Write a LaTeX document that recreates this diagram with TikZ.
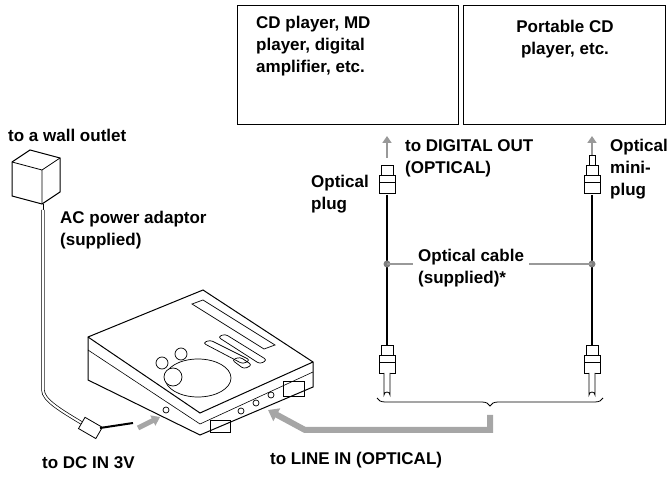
\documentclass[tikz,border=0pt]{standalone}
\usepackage{fontspec}
\setmainfont{Liberation Sans}
\usetikzlibrary{arrows.meta,decorations.pathreplacing}
\tikzset{
  lbl/.style={font=\bfseries\fontsize{17}{22}\selectfont, align=left, inner sep=0pt},
  unit/.style={draw, line width=1pt},
  hint/.style={draw=gray!80, line width=1.6pt},
  grayarrow/.style={draw=gray!70, line width=6pt, -{Triangle[length=10pt,width=14pt]}},
  cable/.style={line width=1.3pt},
  plugbody/.style={draw, fill=white, line width=0.8pt},
}
\newcommand{\optplug}[2]{% x, y of top
  \draw[plugbody] (#1-6,#2) rectangle (#1+6,#2+10);
  \draw[plugbody] (#1-8,#2+10) rectangle (#1+8,#2+28);
  \draw (#1-8,#2+17) -- (#1+8,#2+17);
}
\begin{document}
\begin{tikzpicture}[x=1pt,y=-1pt]
  \useasboundingbox (0,0) rectangle (670,478);
  % equipment boxes
  \node[unit, minimum width=221pt, minimum height=119pt, anchor=north west] (cdbox) at (237,5) {};
  \node[unit, minimum width=202pt, minimum height=119pt, anchor=north west] (pcdbox) at (463,5) {};
  \node[lbl, anchor=north west] (cdtxt) at (256,16) {CD player, MD\\player, digital\\amplifier, etc.};
  \node[lbl, anchor=north, align=center] (pcdtxt) at (565,20) {Portable CD\\player, etc.};
  % cables
  \draw[cable] (387,195) -- (387,345);
  \draw[cable] (592,195) -- (592,345);
  \optplug{387}{165}
  \optplug{592}{165}
  \optplug{387}{345}
  \optplug{592}{345}
  \foreach \x in {387,592}{
    \draw[plugbody] (\x-3,373) -- (\x-3,395) arc (180:360:3) -- (\x+3,373);
    \draw[gray!80, line width=2.5pt, -{Triangle[length=7pt,width=9pt]}] (\x,158) -- (\x,136);
  }
  \draw[plugbody] (589,155) rectangle (595,165);
  \node[lbl, anchor=north east] (plugtxt) at (369,175) {Optical\\plug};
  \node[lbl, anchor=north west] (outtxt) at (405,139) {to DIGITAL OUT\\(OPTICAL)};
  \node[lbl, anchor=north west] (minitxt) at (610,139) {Optical\\mini-\\plug};
  % cable label
  \node[lbl, anchor=north west] (cabletxt) at (418,249) {Optical cable\\(supplied)*};
  \coordinate (ldot) at (387,264);
  \coordinate (rdot) at (592,264);
  \fill[gray] (ldot) circle (3.5);
  \fill[gray] (rdot) circle (3.5);
  \draw[hint] (ldot) -- (413,264);
  \draw[hint] (cabletxt.east |- ldot) ++(5,0) -- (rdot);
  % brace
  \draw[line width=0.8pt, decorate, decoration={brace, amplitude=8pt, mirror, aspect=0.5}] (377,398) -- (603,398);
  % arrow to LINE IN
  \draw[grayarrow] (490,415) -- (490,430) -- (305,430) -- (268,410);
  \node[lbl, anchor=north west] (linetxt) at (270,452) {to LINE IN (OPTICAL)};
  % adaptor
  \node[lbl, anchor=north west] (walltxt) at (8,129) {to a wall outlet};
  \draw[line width=1pt, fill=white] (12,162) -- (30,150) -- (60,158) -- (60,192) -- (42,204) -- (12,196) -- cycle;
  \draw[line width=0.8pt] (12,162) -- (42,170) -- (60,158) (42,170) -- (42,204);
  \draw[line width=0.8pt] (43,204) -- (43,210);
  \draw[line width=0.7pt, double=white, double distance=2pt] (43,210) -- (43,390) .. controls (43,400) and (60,410) .. (85,425);
  \draw[plugbody, rotate around={-30:(95,430)}] (80,424) rectangle (100,437);
  \draw[line width=2pt] (100,428) -- (133,423);
  \node[lbl, anchor=north west] (actxt) at (60,211) {AC power adaptor\\(supplied)};
  \node[lbl, anchor=north west] (dctxt) at (42,456) {to DC IN 3V};
  \draw[draw=gray!70, line width=5pt, -{Triangle[length=8pt,width=11pt]}] (138,428) -- (160,417);
  % MD player
  \draw[line width=1pt, fill=white] (88,337) -- (203,290) -- (313,362) -- (313,387) -- (200,435) -- (88,380) -- cycle;
  \draw[line width=1pt] (88,337) -- (200,413) -- (313,362);
  \draw[line width=0.6pt] (88,350) -- (200,424) -- (313,372);
  \draw[line width=0.7pt] (192,304) -- (203,300) -- (275,345) -- (264,349) -- cycle;
  \draw[line width=0.7pt] (198,378) ellipse (33 and 19);
  \draw[line width=0.7pt, fill=white] (173,377) circle (9);
  \draw[line width=0.7pt] (162,363) circle (6);
  \draw[line width=0.7pt] (181,354) circle (6);
  \draw[line width=0.7pt, rounded corners=3pt] (203,343) -- (210,340) -- (250,360) -- (243,364) -- cycle;
  \draw[line width=0.7pt, rounded corners=3pt] (218,337) -- (225,334) -- (267,360) -- (260,364) -- cycle;
  \draw[line width=0.7pt, rounded corners=3pt] (232,360) -- (240,357) -- (252,365) -- (244,369) -- cycle;
  \draw[line width=0.7pt] (283,381) rectangle (304,396);
  \draw[line width=0.7pt] (210,420) rectangle (230,432);
  \foreach \x/\y in {166/410, 241/411, 256/403, 271/395}{\draw[line width=0.7pt] (\x,\y) circle (3);}
\end{tikzpicture}
\end{document}
